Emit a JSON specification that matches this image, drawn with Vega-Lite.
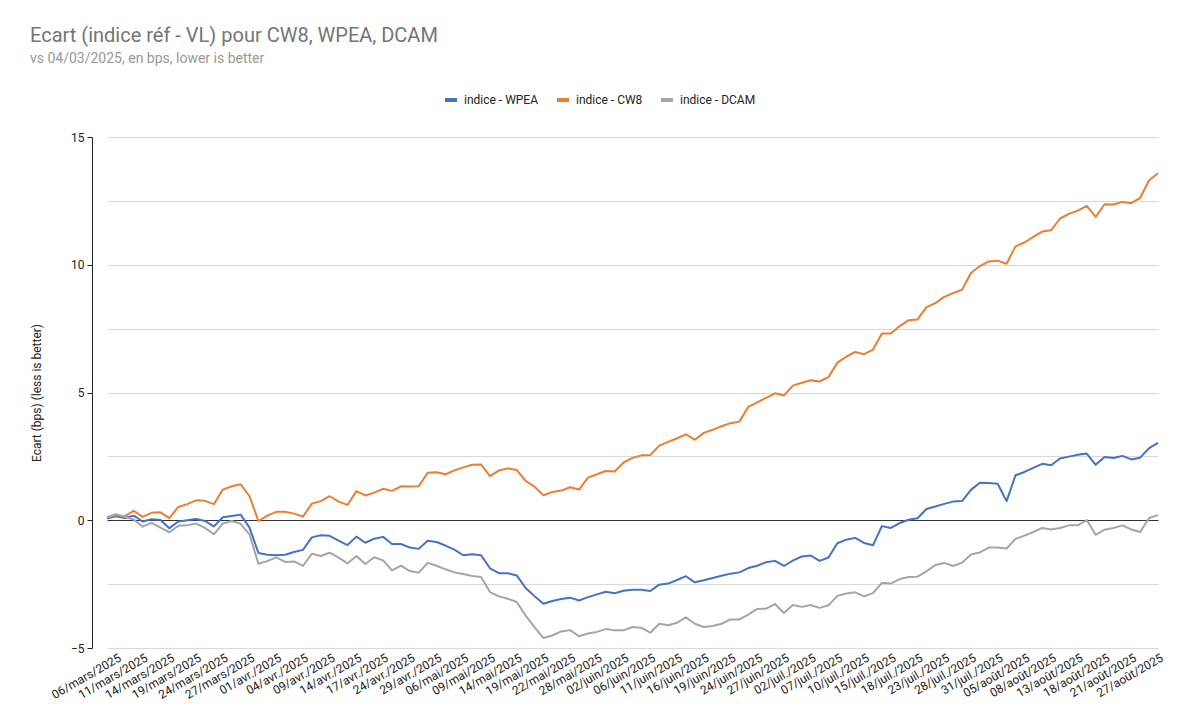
{
  "$schema": "https://vega.github.io/schema/vega-lite/v6.json",
  "description": "Ecart indice de référence - VL pour CW8, WPEA, DCAM.",
  "autosize": {"type": "none"},
  "padding": {"left": 92, "top": 137, "right": 22, "bottom": 69},
  "width": 1070,
  "height": 511,
  "title": {
    "text": "Ecart (indice réf - VL) pour CW8, WPEA, DCAM",
    "subtitle": "vs 04/03/2025, en bps, lower is better",
    "anchor": "start",
    "frame": "group",
    "dx": -62,
    "dy": -22
  },
  "data": {
    "values": [
      {"date": "06/mars/2025", "WPEA": 0.07, "CW8": 0.10, "DCAM": 0.12},
      {"date": "07/mars/2025", "WPEA": 0.16, "CW8": 0.20, "DCAM": 0.24},
      {"date": "10/mars/2025", "WPEA": 0.09, "CW8": 0.16, "DCAM": 0.13},
      {"date": "11/mars/2025", "WPEA": 0.18, "CW8": 0.37, "DCAM": 0.03},
      {"date": "12/mars/2025", "WPEA": -0.05, "CW8": 0.13, "DCAM": -0.25},
      {"date": "13/mars/2025", "WPEA": 0.04, "CW8": 0.29, "DCAM": -0.10},
      {"date": "14/mars/2025", "WPEA": 0.01, "CW8": 0.31, "DCAM": -0.29},
      {"date": "17/mars/2025", "WPEA": -0.31, "CW8": 0.08, "DCAM": -0.47},
      {"date": "18/mars/2025", "WPEA": -0.05, "CW8": 0.52, "DCAM": -0.22},
      {"date": "19/mars/2025", "WPEA": 0.00, "CW8": 0.63, "DCAM": -0.20},
      {"date": "20/mars/2025", "WPEA": 0.05, "CW8": 0.78, "DCAM": -0.13},
      {"date": "21/mars/2025", "WPEA": -0.03, "CW8": 0.76, "DCAM": -0.30},
      {"date": "24/mars/2025", "WPEA": -0.24, "CW8": 0.63, "DCAM": -0.55},
      {"date": "25/mars/2025", "WPEA": 0.12, "CW8": 1.20, "DCAM": -0.13},
      {"date": "26/mars/2025", "WPEA": 0.17, "CW8": 1.33, "DCAM": -0.03},
      {"date": "27/mars/2025", "WPEA": 0.22, "CW8": 1.41, "DCAM": -0.14},
      {"date": "28/mars/2025", "WPEA": -0.29, "CW8": 0.94, "DCAM": -0.55},
      {"date": "31/mars/2025", "WPEA": -1.28, "CW8": -0.03, "DCAM": -1.70},
      {"date": "01/avr./2025", "WPEA": -1.35, "CW8": 0.18, "DCAM": -1.60},
      {"date": "02/avr./2025", "WPEA": -1.37, "CW8": 0.33, "DCAM": -1.45},
      {"date": "03/avr./2025", "WPEA": -1.35, "CW8": 0.33, "DCAM": -1.63},
      {"date": "04/avr./2025", "WPEA": -1.24, "CW8": 0.26, "DCAM": -1.61},
      {"date": "07/avr./2025", "WPEA": -1.16, "CW8": 0.14, "DCAM": -1.79},
      {"date": "08/avr./2025", "WPEA": -0.67, "CW8": 0.65, "DCAM": -1.31},
      {"date": "09/avr./2025", "WPEA": -0.59, "CW8": 0.75, "DCAM": -1.40},
      {"date": "10/avr./2025", "WPEA": -0.61, "CW8": 0.94, "DCAM": -1.27},
      {"date": "11/avr./2025", "WPEA": -0.80, "CW8": 0.73, "DCAM": -1.46},
      {"date": "14/avr./2025", "WPEA": -0.97, "CW8": 0.60, "DCAM": -1.69},
      {"date": "15/avr./2025", "WPEA": -0.64, "CW8": 1.14, "DCAM": -1.40},
      {"date": "16/avr./2025", "WPEA": -0.88, "CW8": 0.97, "DCAM": -1.71},
      {"date": "17/avr./2025", "WPEA": -0.72, "CW8": 1.08, "DCAM": -1.45},
      {"date": "22/avr./2025", "WPEA": -0.65, "CW8": 1.23, "DCAM": -1.57},
      {"date": "23/avr./2025", "WPEA": -0.93, "CW8": 1.15, "DCAM": -1.96},
      {"date": "24/avr./2025", "WPEA": -0.93, "CW8": 1.33, "DCAM": -1.78},
      {"date": "25/avr./2025", "WPEA": -1.07, "CW8": 1.32, "DCAM": -1.99},
      {"date": "28/avr./2025", "WPEA": -1.12, "CW8": 1.33, "DCAM": -2.05},
      {"date": "29/avr./2025", "WPEA": -0.80, "CW8": 1.86, "DCAM": -1.67},
      {"date": "30/avr./2025", "WPEA": -0.85, "CW8": 1.88, "DCAM": -1.78},
      {"date": "02/mai/2025", "WPEA": -0.99, "CW8": 1.80, "DCAM": -1.92},
      {"date": "06/mai/2025", "WPEA": -1.15, "CW8": 1.95, "DCAM": -2.04},
      {"date": "07/mai/2025", "WPEA": -1.37, "CW8": 2.07, "DCAM": -2.10},
      {"date": "08/mai/2025", "WPEA": -1.33, "CW8": 2.17, "DCAM": -2.18},
      {"date": "09/mai/2025", "WPEA": -1.37, "CW8": 2.18, "DCAM": -2.22},
      {"date": "12/mai/2025", "WPEA": -1.88, "CW8": 1.73, "DCAM": -2.81},
      {"date": "13/mai/2025", "WPEA": -2.07, "CW8": 1.95, "DCAM": -2.98},
      {"date": "14/mai/2025", "WPEA": -2.07, "CW8": 2.03, "DCAM": -3.07},
      {"date": "15/mai/2025", "WPEA": -2.16, "CW8": 1.97, "DCAM": -3.20},
      {"date": "16/mai/2025", "WPEA": -2.65, "CW8": 1.54, "DCAM": -3.73},
      {"date": "19/mai/2025", "WPEA": -2.97, "CW8": 1.31, "DCAM": -4.18},
      {"date": "20/mai/2025", "WPEA": -3.27, "CW8": 0.98, "DCAM": -4.61},
      {"date": "21/mai/2025", "WPEA": -3.16, "CW8": 1.11, "DCAM": -4.51},
      {"date": "22/mai/2025", "WPEA": -3.08, "CW8": 1.16, "DCAM": -4.35},
      {"date": "23/mai/2025", "WPEA": -3.03, "CW8": 1.29, "DCAM": -4.30},
      {"date": "27/mai/2025", "WPEA": -3.14, "CW8": 1.20, "DCAM": -4.54},
      {"date": "28/mai/2025", "WPEA": -3.01, "CW8": 1.67, "DCAM": -4.43},
      {"date": "29/mai/2025", "WPEA": -2.90, "CW8": 1.80, "DCAM": -4.37},
      {"date": "30/mai/2025", "WPEA": -2.80, "CW8": 1.93, "DCAM": -4.26},
      {"date": "02/juin/2025", "WPEA": -2.86, "CW8": 1.91, "DCAM": -4.31},
      {"date": "03/juin/2025", "WPEA": -2.76, "CW8": 2.26, "DCAM": -4.31},
      {"date": "04/juin/2025", "WPEA": -2.72, "CW8": 2.44, "DCAM": -4.18},
      {"date": "06/juin/2025", "WPEA": -2.72, "CW8": 2.54, "DCAM": -4.21},
      {"date": "09/juin/2025", "WPEA": -2.77, "CW8": 2.55, "DCAM": -4.40},
      {"date": "10/juin/2025", "WPEA": -2.52, "CW8": 2.92, "DCAM": -4.05},
      {"date": "11/juin/2025", "WPEA": -2.48, "CW8": 3.07, "DCAM": -4.11},
      {"date": "12/juin/2025", "WPEA": -2.34, "CW8": 3.21, "DCAM": -4.01},
      {"date": "13/juin/2025", "WPEA": -2.19, "CW8": 3.36, "DCAM": -3.80},
      {"date": "16/juin/2025", "WPEA": -2.43, "CW8": 3.15, "DCAM": -4.05},
      {"date": "17/juin/2025", "WPEA": -2.35, "CW8": 3.42, "DCAM": -4.18},
      {"date": "18/juin/2025", "WPEA": -2.26, "CW8": 3.54, "DCAM": -4.14},
      {"date": "19/juin/2025", "WPEA": -2.17, "CW8": 3.68, "DCAM": -4.05},
      {"date": "20/juin/2025", "WPEA": -2.09, "CW8": 3.80, "DCAM": -3.88},
      {"date": "23/juin/2025", "WPEA": -2.04, "CW8": 3.86, "DCAM": -3.88},
      {"date": "24/juin/2025", "WPEA": -1.87, "CW8": 4.44, "DCAM": -3.69},
      {"date": "25/juin/2025", "WPEA": -1.78, "CW8": 4.61, "DCAM": -3.47},
      {"date": "26/juin/2025", "WPEA": -1.64, "CW8": 4.79, "DCAM": -3.46},
      {"date": "27/juin/2025", "WPEA": -1.59, "CW8": 4.97, "DCAM": -3.28},
      {"date": "30/juin/2025", "WPEA": -1.79, "CW8": 4.88, "DCAM": -3.63},
      {"date": "01/juil./2025", "WPEA": -1.58, "CW8": 5.27, "DCAM": -3.32},
      {"date": "02/juil./2025", "WPEA": -1.42, "CW8": 5.38, "DCAM": -3.39},
      {"date": "03/juil./2025", "WPEA": -1.38, "CW8": 5.48, "DCAM": -3.32},
      {"date": "04/juil./2025", "WPEA": -1.59, "CW8": 5.43, "DCAM": -3.43},
      {"date": "07/juil./2025", "WPEA": -1.46, "CW8": 5.60, "DCAM": -3.33},
      {"date": "08/juil./2025", "WPEA": -0.90, "CW8": 6.17, "DCAM": -2.96},
      {"date": "09/juil./2025", "WPEA": -0.76, "CW8": 6.40, "DCAM": -2.87},
      {"date": "10/juil./2025", "WPEA": -0.69, "CW8": 6.59, "DCAM": -2.82},
      {"date": "11/juil./2025", "WPEA": -0.89, "CW8": 6.50, "DCAM": -2.98},
      {"date": "14/juil./2025", "WPEA": -0.98, "CW8": 6.68, "DCAM": -2.85},
      {"date": "15/juil./2025", "WPEA": -0.23, "CW8": 7.31, "DCAM": -2.45},
      {"date": "16/juil./2025", "WPEA": -0.30, "CW8": 7.31, "DCAM": -2.48},
      {"date": "17/juil./2025", "WPEA": -0.11, "CW8": 7.60, "DCAM": -2.30},
      {"date": "18/juil./2025", "WPEA": 0.02, "CW8": 7.83, "DCAM": -2.22},
      {"date": "21/juil./2025", "WPEA": 0.08, "CW8": 7.86, "DCAM": -2.21},
      {"date": "22/juil./2025", "WPEA": 0.44, "CW8": 8.34, "DCAM": -2.00},
      {"date": "23/juil./2025", "WPEA": 0.54, "CW8": 8.50, "DCAM": -1.75},
      {"date": "24/juil./2025", "WPEA": 0.64, "CW8": 8.74, "DCAM": -1.67},
      {"date": "25/juil./2025", "WPEA": 0.73, "CW8": 8.89, "DCAM": -1.79},
      {"date": "28/juil./2025", "WPEA": 0.75, "CW8": 9.02, "DCAM": -1.66},
      {"date": "29/juil./2025", "WPEA": 1.19, "CW8": 9.68, "DCAM": -1.34},
      {"date": "30/juil./2025", "WPEA": 1.47, "CW8": 9.95, "DCAM": -1.26},
      {"date": "31/juil./2025", "WPEA": 1.46, "CW8": 10.13, "DCAM": -1.07},
      {"date": "01/août/2025", "WPEA": 1.43, "CW8": 10.16, "DCAM": -1.07},
      {"date": "04/août/2025", "WPEA": 0.75, "CW8": 10.04, "DCAM": -1.11},
      {"date": "05/août/2025", "WPEA": 1.76, "CW8": 10.72, "DCAM": -0.73},
      {"date": "06/août/2025", "WPEA": 1.89, "CW8": 10.87, "DCAM": -0.60},
      {"date": "07/août/2025", "WPEA": 2.05, "CW8": 11.09, "DCAM": -0.46},
      {"date": "08/août/2025", "WPEA": 2.21, "CW8": 11.30, "DCAM": -0.30},
      {"date": "11/août/2025", "WPEA": 2.15, "CW8": 11.35, "DCAM": -0.36},
      {"date": "12/août/2025", "WPEA": 2.42, "CW8": 11.81, "DCAM": -0.30},
      {"date": "13/août/2025", "WPEA": 2.49, "CW8": 11.99, "DCAM": -0.20},
      {"date": "14/août/2025", "WPEA": 2.56, "CW8": 12.12, "DCAM": -0.20},
      {"date": "15/août/2025", "WPEA": 2.61, "CW8": 12.30, "DCAM": 0.01},
      {"date": "18/août/2025", "WPEA": 2.17, "CW8": 11.87, "DCAM": -0.57},
      {"date": "19/août/2025", "WPEA": 2.48, "CW8": 12.37, "DCAM": -0.37},
      {"date": "20/août/2025", "WPEA": 2.44, "CW8": 12.36, "DCAM": -0.30},
      {"date": "21/août/2025", "WPEA": 2.52, "CW8": 12.46, "DCAM": -0.20},
      {"date": "22/août/2025", "WPEA": 2.38, "CW8": 12.41, "DCAM": -0.36},
      {"date": "25/août/2025", "WPEA": 2.45, "CW8": 12.62, "DCAM": -0.46},
      {"date": "27/août/2025", "WPEA": 2.82, "CW8": 13.31, "DCAM": 0.09},
      {"date": "28/août/2025", "WPEA": 3.03, "CW8": 13.58, "DCAM": 0.20}
    ]
  },
  "transform": [
    {"fold": ["WPEA", "CW8", "DCAM"], "as": ["fonds", "ecart"]}
  ],
  "mark": {"type": "line", "strokeWidth": 2, "strokeJoin": "round"},
  "encoding": {
    "x": {
      "field": "date",
      "type": "ordinal",
      "sort": null,
      "scale": {"type": "point", "range": [15, 1066], "padding": 0},
      "axis": {
        "title": null,
        "domain": false,
        "ticks": false,
        "labelAngle": -30,
        "labelOffset": 10,
        "labelPadding": 4,
        "values": ["06/mars/2025", "11/mars/2025", "14/mars/2025", "19/mars/2025", "24/mars/2025", "27/mars/2025", "01/avr./2025", "04/avr./2025", "09/avr./2025", "14/avr./2025", "17/avr./2025", "24/avr./2025", "29/avr./2025", "06/mai/2025", "09/mai/2025", "14/mai/2025", "19/mai/2025", "22/mai/2025", "28/mai/2025", "02/juin/2025", "06/juin/2025", "11/juin/2025", "16/juin/2025", "19/juin/2025", "24/juin/2025", "27/juin/2025", "02/juil./2025", "07/juil./2025", "10/juil./2025", "15/juil./2025", "18/juil./2025", "23/juil./2025", "28/juil./2025", "31/juil./2025", "05/août/2025", "08/août/2025", "13/août/2025", "18/août/2025", "21/août/2025", "27/août/2025"]
      }
    },
    "y": {
      "field": "ecart",
      "type": "quantitative",
      "scale": {"domain": [-5, 15], "nice": false, "zero": false},
      "axis": {
        "title": "Ecart (bps) (less is better)",
        "values": [-5, -2.5, 0, 2.5, 5, 7.5, 10, 12.5, 15],
        "labelExpr": "datum.value % 5 === 0 ? datum.label : ''",
        "tickOpacity": {"condition": {"test": "datum.value % 5 === 0", "value": 1}, "value": 0},
        "gridColor": {"condition": {"test": "datum.value === 0", "value": "#333333"}, "value": "#d9d9d9"},
        "domain": true,
        "domainColor": "#222222",
        "tickColor": "#222222",
        "tickSize": 5,
        "labelPadding": 3,
        "titlePadding": 27
      }
    },
    "color": {
      "field": "fonds",
      "type": "nominal",
      "scale": {
        "domain": ["WPEA", "CW8", "DCAM"],
        "range": ["#4472c4", "#ed7d31", "#a5a5a5"]
      },
      "legend": {
        "title": null,
        "orient": "none",
        "direction": "horizontal",
        "legendX": 351,
        "legendY": -45,
        "labelExpr": "'indice - ' + datum.label",
        "symbolType": "stroke",
        "symbolSize": 144,
        "symbolStrokeWidth": 4,
        "labelOffset": 5,
        "columnPadding": 10
      }
    }
  },
  "config": {
    "font": "Roboto",
    "view": {"stroke": null},
    "title": {
      "fontSize": 20,
      "fontWeight": "normal",
      "color": "#757575",
      "subtitleFontSize": 14,
      "subtitleColor": "#999999",
      "subtitlePadding": 6
    },
    "axis": {
      "labelFont": "Roboto",
      "labelFontSize": 12,
      "labelColor": "#222222",
      "titleFont": "Roboto",
      "titleFontSize": 12,
      "titleFontWeight": "normal",
      "titleColor": "#222222",
      "gridWidth": 1
    },
    "legend": {
      "labelFont": "Roboto",
      "labelFontSize": 12,
      "labelColor": "#222222"
    }
  }
}
